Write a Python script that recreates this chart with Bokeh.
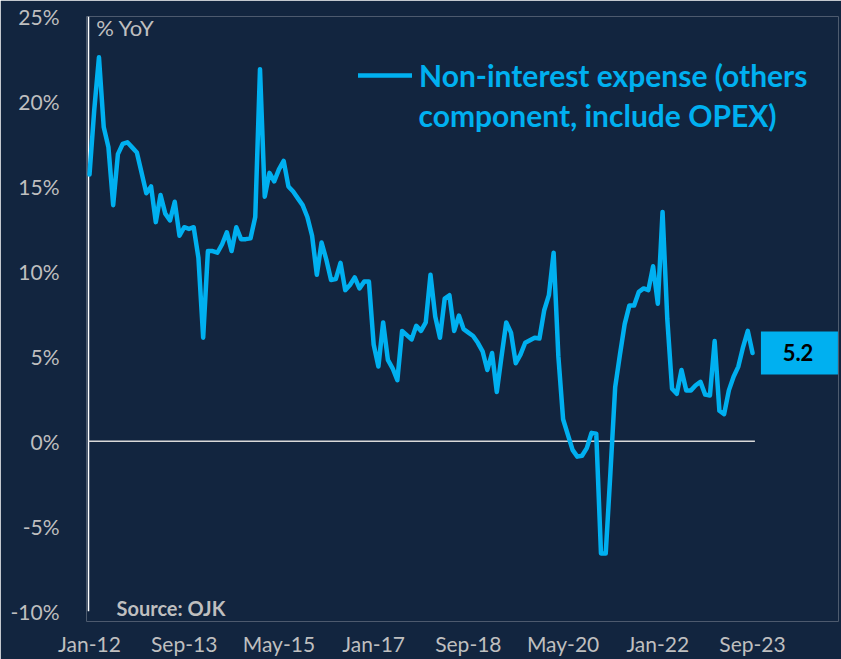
from bokeh.plotting import figure
from bokeh.models import FixedTicker, Range1d, Label
from bokeh.core.properties import value
from bokeh.embed import file_html
from bokeh.resources import INLINE

# Monthly YoY growth (%), Jan-12 .. Sep-23
series_line1 = "Non-interest expense (others"
series_line2 = "component, include OPEX)"
yoy = [
    15.7, 19.5, 22.6, 18.5, 17.3, 13.9, 16.9, 17.5, 17.6, 17.3,
    17.0, 15.8, 14.6, 15.0, 12.9, 14.5, 13.4, 13.0, 14.1, 12.1,
    12.6, 12.5, 12.6, 10.8, 6.1, 11.2, 11.2, 11.1, 11.6, 12.3,
    11.2, 12.6, 11.9, 11.9, 11.95, 13.2, 21.9, 14.4, 15.8, 15.3,
    16.0, 16.5, 15.0, 14.7, 14.3, 13.9, 13.2, 12.1, 9.8, 11.7,
    10.7, 9.5, 9.55, 10.5, 8.9, 9.2, 9.65, 9.0, 9.4, 9.4,
    5.7, 4.4, 7.0, 4.8, 4.3, 3.6, 6.5, 6.25, 6.0, 6.8,
    6.5, 7.0, 9.8, 7.35, 6.1, 8.4, 8.6, 6.5, 7.4, 6.6,
    6.4, 6.2, 5.8, 5.3, 4.2, 5.2, 2.9, 5.0, 7.0, 6.4,
    4.6, 5.1, 5.8, 5.95, 6.1, 6.05, 7.7, 8.6, 11.1, 5.0,
    1.3, 0.4, -0.5, -0.9, -0.85, -0.4, 0.5, 0.45, -6.6, -6.6,
    -1.8, 3.2, 5.1, 6.9, 8.0, 8.0, 8.8, 9.0, 8.9, 10.3,
    8.1, 13.5, 7.2, 3.1, 2.8, 4.2, 3.0, 3.0, 3.3, 3.5,
    2.75, 2.7, 5.9, 1.8, 1.6, 3.0, 3.8, 4.4, 5.55, 6.5,
    5.2,
]
months = list(range(len(yoy)))
tick_positions = [0, 20, 40, 60, 80, 100, 120, 140]
tick_labels = ["Jan-12", "Sep-13", "May-15", "Jan-17", "Sep-18", "May-20", "Jan-22", "Sep-23"]
y_ticks = [-10, -5, 0, 5, 10, 15, 20, 25]
y_labels = ["-10%", "-5%", "0%", "5%", "10%", "15%", "20%", "25%"]

BG = "#12253f"
BLUE = "#00b0f0"
GREY = "#bfbfbf"
FONT = "Lato"

px_per_month = 4.736
frame_w = 752
x_start = -3 / px_per_month
x_end = x_start + frame_w / px_per_month
axis_x = x_start + 2 / px_per_month   # vertical axis line position
y_min, y_max = y_ticks[0], y_ticks[-1]

p = figure(width=841, height=659, output_backend="svg", toolbar_location=None,
           x_range=Range1d(x_start, x_end), y_range=Range1d(y_min - 0.6, y_max),
           min_border_left=86, min_border_right=3, min_border_top=16, min_border_bottom=38)
p.background_fill_color = BG
p.border_fill_color = BG
p.outline_line_color = None
p.xgrid.visible = False
p.ygrid.visible = False

last = len(yoy) - 1
# vertical axis line and zero line
p.line([axis_x, axis_x], [y_min, y_max], line_color="#ffffff", line_width=1.5)
p.line([axis_x, last + 0.5], [0, 0], line_color="#d9d9d9", line_width=1.5)

# main series
p.line(months, yoy, line_color=BLUE, line_width=4.5, line_join="round", line_cap="round",
       legend_label=series_line1)

# last value box
p.rect(x=[last + 9.9], y=[yoy[-1]], width=77, height=43, width_units="screen", height_units="screen",
       fill_color=BLUE, line_color=None)
p.text(x=[last + 9.6], y=[yoy[-1]], text=[f"{yoy[-1]:.1f}"], text_font=value(FONT), text_font_style="bold",
       text_font_size="22px", text_color="#000000", text_align="center", text_baseline="middle")

# annotations
p.add_layout(Label(x=1.4, y=24.35, text="% YoY", text_font=FONT, text_font_size="22px",
                   text_color=GREY, text_align="left", text_baseline="middle"))
p.add_layout(Label(x=5.7, y=-9.8, text="Source: OJK", text_font=FONT, text_font_style="bold",
                   text_font_size="20px", text_color=GREY, text_align="left", text_baseline="middle"))

# axes
xa = p.xaxis[0]
xa.ticker = FixedTicker(ticks=tick_positions)
xa.major_label_overrides = dict(zip(tick_positions, tick_labels))
xa.axis_line_color = None
xa.major_tick_line_color = None
xa.minor_tick_line_color = None
xa.major_label_standoff = 3
xa.major_label_text_font = FONT
xa.major_label_text_font_size = "21px"
xa.major_label_text_color = GREY

ya = p.yaxis[0]
ya.ticker = FixedTicker(ticks=y_ticks)
ya.major_label_overrides = dict(zip(y_ticks, y_labels))
ya.axis_line_color = None
ya.major_tick_line_color = None
ya.minor_tick_line_color = None
ya.major_label_standoff = 21
ya.major_label_text_font = FONT
ya.major_label_text_font_size = "21px"
ya.major_label_text_color = GREY

# legend (first line) + continuation line
lg = p.legend[0]
lg.location = (272, 526)
lg.background_fill_alpha = 0
lg.border_line_alpha = 0
lg.padding = 0
lg.margin = 0
lg.spacing = 0
lg.glyph_width = 54
lg.glyph_height = 40
lg.label_height = 40
lg.label_standoff = 7
lg.label_text_font = FONT
lg.label_text_font_style = "bold"
lg.label_text_font_size = "30px"
lg.label_text_color = BLUE
lg.label_text_baseline = "middle"

p.add_layout(Label(x=332, y=507, x_units="screen", y_units="screen", text=series_line2,
                   text_font=FONT, text_font_style="bold", text_font_size="30px",
                   text_color=BLUE, text_align="left", text_baseline="middle"))

open("out.html", "w").write(file_html(p, INLINE))
